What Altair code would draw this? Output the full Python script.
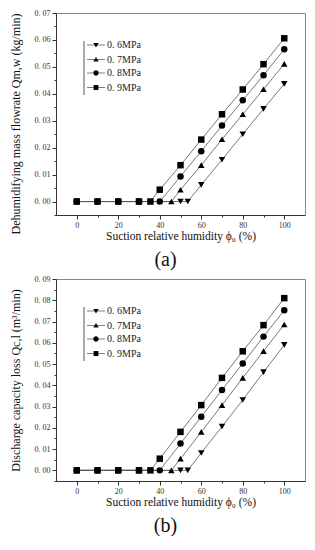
import altair as alt
import pandas as pd

series = ["0. 6MPa", "0. 7MPa", "0. 8MPa", "0. 9MPa"]
shapes = ["triangle-down", "triangle-up", "circle", "square"]

# Panel (a): dehumidifying mass flowrate (kg/min)
a_x_06 = [0, 10, 20, 30, 50, 53.5, 60, 70, 80, 90, 100]
a_y_06 = [0, 0, 0, 0, 0, 0, 0.0062, 0.0155, 0.0250, 0.0344, 0.0437]
a_x_07 = [0, 10, 20, 30, 45.6, 50, 60, 70, 80, 90, 100]
a_y_07 = [0, 0, 0, 0, 0, 0.0044, 0.0135, 0.0231, 0.0324, 0.0417, 0.0511]
a_x_08 = [0, 10, 20, 30, 40, 50, 60, 70, 80, 90, 100]
a_y_08 = [0, 0, 0, 0, 0, 0.0093, 0.0187, 0.0282, 0.0376, 0.0469, 0.0565]
a_x_09 = [0, 10, 20, 30, 35.5, 40, 50, 60, 70, 80, 90, 100]
a_y_09 = [0, 0, 0, 0, 0, 0.0044, 0.0135, 0.0230, 0.0324, 0.0416, 0.0510, 0.0606]

# Panel (b): discharge capacity loss (m3/min)
b_x_06 = [0, 10, 20, 30, 50, 53.5, 60, 70, 80, 90, 100]
b_y_06 = [0, 0, 0, 0, 0, 0, 0.0082, 0.0206, 0.0331, 0.0462, 0.0590]
b_x_07 = [0, 10, 20, 30, 45.6, 50, 60, 70, 80, 90, 100]
b_y_07 = [0, 0, 0, 0, 0, 0.0055, 0.0181, 0.0307, 0.0435, 0.0561, 0.0686]
b_x_08 = [0, 10, 20, 30, 40, 50, 60, 70, 80, 90, 100]
b_y_08 = [0, 0, 0, 0, 0, 0.0126, 0.0252, 0.0378, 0.0503, 0.0629, 0.0753]
b_x_09 = [0, 10, 20, 30, 35.5, 40, 50, 60, 70, 80, 90, 100]
b_y_09 = [0, 0, 0, 0, 0, 0.0055, 0.0181, 0.0307, 0.0435, 0.0560, 0.0683, 0.0810]

x_ticks = [0, 10, 20, 30, 40, 50, 60, 70, 80, 90, 100]
a_y_ticks = [round(-0.005 + 0.005 * i, 3) for i in range(16)]
b_y_ticks = [round(-0.005 + 0.005 * i, 3) for i in range(20)]

FONT = "Liberation Serif"

# legend symbols: marker with a thin filled bar through it (all subpaths clockwise)
BAR = "M-3.4,-0.14L3.4,-0.14L3.4,0.14L-3.4,0.14Z"
legend_shapes = [
    BAR + "M-1,-0.75L1,-0.75L0,0.95Z",
    BAR + "M-1,0.75L0,-0.95L1,0.75Z",
    BAR + "M-1,0A1,1,0,1,1,1,0A1,1,0,1,1,-1,0Z",
    BAR + "M-0.9,-0.9L0.9,-0.9L0.9,0.9L-0.9,0.9Z",
]


def frame(xs_list, ys_list):
    rows = []
    # circles drawn last so they sit on top of the shared zero points
    for idx in [0, 1, 3, 2]:
        for x, y in zip(xs_list[idx], ys_list[idx]):
            rows.append({"x": x, "y": y, "s": series[idx]})
    return pd.DataFrame(rows)


def panel(df, ymax, yticks, ytitle, label, title_anchor):
    xs = alt.X(
        "x:Q",
        scale=alt.Scale(domain=[-10, 110], nice=False, zero=False),
        axis=alt.Axis(
            title="Suction relative humidity ϕ₀ (%)",
            values=x_ticks,
            labelExpr="datum.value % 20 === 0 ? datum.label : ''",
            tickSize={"condition": {"test": "datum.value % 20 === 0", "value": 4}, "value": 2},
            grid=False,
        ),
    )
    ys = alt.Y(
        "y:Q",
        scale=alt.Scale(domain=[-0.005, ymax], nice=False, zero=False),
        axis=alt.Axis(
            title=ytitle,
            values=yticks,
            labelExpr="round(datum.value*1000) % 10 === 0 ? replace(format(datum.value, '.2f'), '.', '. ') : ''",
            tickSize={"condition": {"test": "round(datum.value*1000) % 10 === 0", "value": 4}, "value": 2},
            titleAnchor=title_anchor,
            grid=False,
        ),
    )
    base = alt.Chart(df)
    lines = base.mark_line(color="#555555", strokeWidth=0.8).encode(
        x=xs, y=ys, detail="s:N", order="x:Q"
    )
    pts = base.mark_point(filled=True, size=42, opacity=1, color="black").encode(
        x=xs,
        y=ys,
        shape=alt.Shape("s:N", scale=alt.Scale(domain=series, range=shapes), legend=None),
    )
    legend_layer = base.mark_point(filled=True, color="black", opacity=0, size=28).encode(
        x=xs,
        y=ys,
        shape=alt.Shape(
            "s:N",
            scale=alt.Scale(domain=series, range=legend_shapes),
            legend=alt.Legend(
                title=None,
                orient="none",
                legendX=35,
                legendY=27,
                labelFont=FONT,
                labelFontSize=10,
                labelColor="#222222",
                labelOffset=6,
                symbolSize=28,
                symbolOpacity=1,
                symbolFillColor="black",
                rowPadding=2.5,
            ),
        ),
    )
    bar = base.mark_rule(color="#aaaaaa", strokeWidth=1.5).encode(
        x=alt.value(28), y=alt.value(28), y2=alt.value(82)
    )
    return alt.layer(bar, lines, pts, legend_layer).resolve_scale(
        shape="independent"
    ).properties(
        width=249,
        height=202,
        title=alt.TitleParams(
            label, orient="bottom", fontSize=20, font=FONT, fontWeight="normal",
            dx=-15, offset=8, color="#111111",
        ),
    )


a = panel(
    frame([a_x_06, a_x_07, a_x_08, a_x_09], [a_y_06, a_y_07, a_y_08, a_y_09]),
    0.07, a_y_ticks, "Dehumidifying mass flowrate Qm,w  (kg/min)", "(a)", "end",
)
b = panel(
    frame([b_x_06, b_x_07, b_x_08, b_x_09], [b_y_06, b_y_07, b_y_08, b_y_09]),
    0.09, b_y_ticks, "Discharge capacity loss Qc,l  (m³/min)", "(b)", "middle",
)

chart = alt.vconcat(a, b, spacing=4).resolve_scale(shape="independent").configure(
    padding=0, background="white"
).configure_view(stroke="#888888", strokeWidth=1).configure_axis(
    labelFont=FONT,
    labelFontSize=8,
    labelColor="#333333",
    titleFont=FONT,
    titleFontSize=12,
    titleFontWeight="normal",
    titleColor="#111111",
    domainColor="#333333",
    tickColor="#333333",
    labelPadding=2,
).configure_axisX(titlePadding=1, titleFontSize=11.5).configure_axisY(titlePadding=12)

chart.save("out.html", embed_options={"renderer": "svg", "actions": False})
